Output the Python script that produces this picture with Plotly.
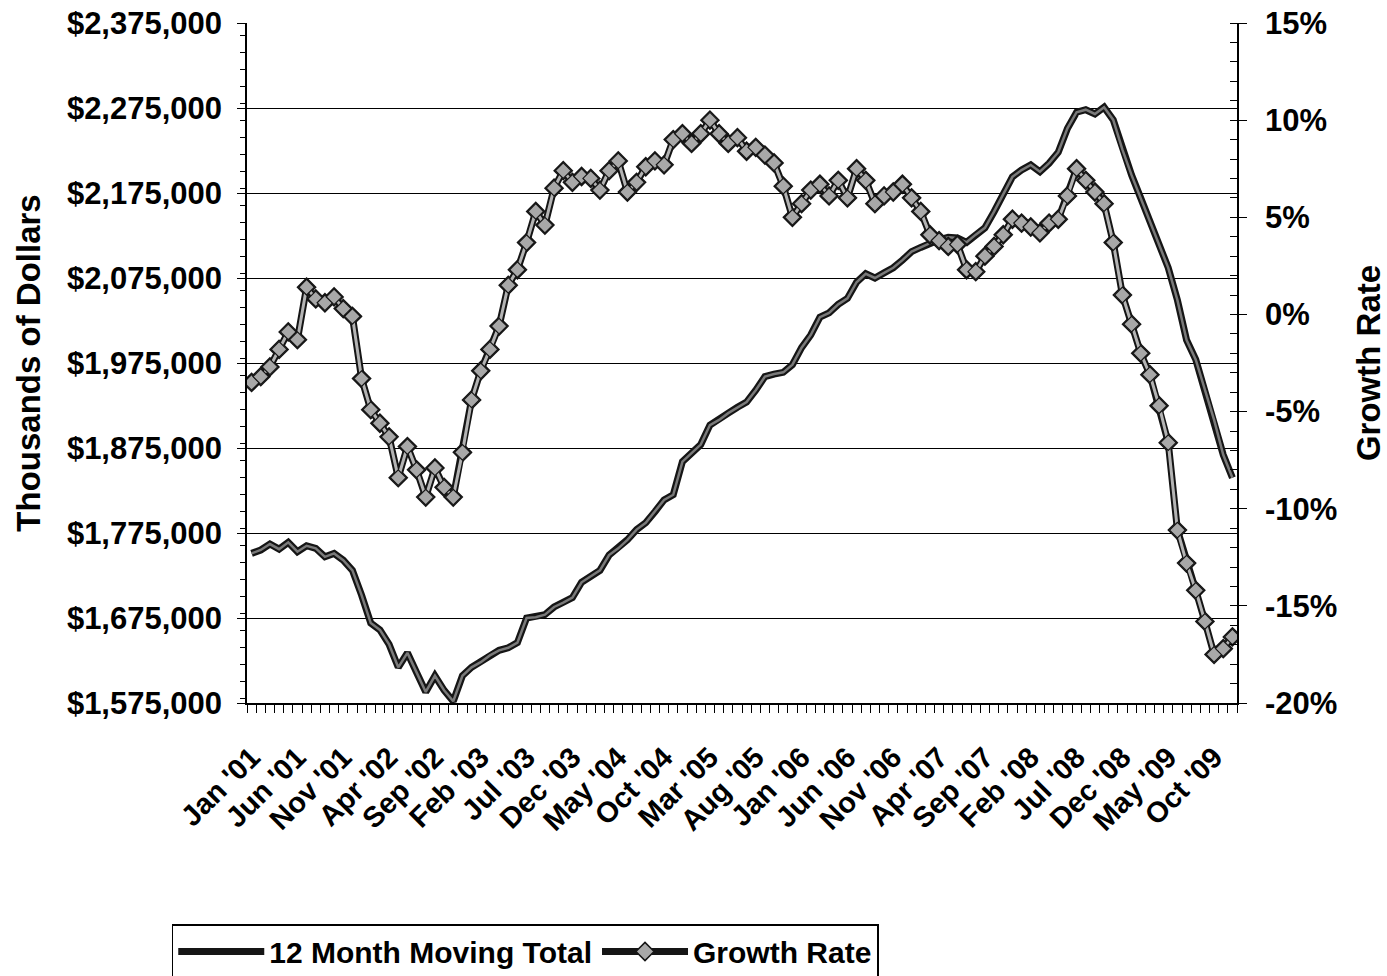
import plotly.graph_objects as go

# ---------------- data ----------------
month_names = ["Jan", "Feb", "Mar", "Apr", "May", "Jun",
               "Jul", "Aug", "Sep", "Oct", "Nov", "Dec"]
years = ["01", "02", "03", "04", "05", "06", "07", "08", "09"]
months = [f"{m} '{y}" for y in years for m in month_names]  # Jan '01 .. Dec '09

# 12 month moving total (thousands of dollars)
moving_total = [
    1751000, 1755000, 1762000, 1756000, 1764000, 1753000, 1760000, 1757000, 1747000, 1751000, 1743000, 1731000,  # 2001
    1702000, 1669000, 1661000, 1644000, 1617000, 1634000, 1611000, 1588000, 1607000, 1590000, 1577000, 1607000,  # 2002
    1617000, 1623000, 1631000, 1637000, 1640000, 1646000, 1675000, 1676000, 1679000, 1688000, 1693000, 1699000,  # 2003
    1717000, 1724000, 1731000, 1749000, 1757000, 1767000, 1779000, 1787000, 1800000, 1814000, 1820000, 1859000,  # 2004
    1869000, 1879000, 1902000, 1908000, 1916000, 1923000, 1929000, 1943000, 1959000, 1962000, 1964000, 1973000,  # 2005
    1993000, 2008000, 2029000, 2034000, 2044000, 2051000, 2070000, 2080000, 2075000, 2081000, 2087000, 2096000,  # 2006
    2106000, 2111000, 2116000, 2120000, 2123000, 2122000, 2117000, 2126000, 2134000, 2153000, 2173000, 2194000,  # 2007
    2202000, 2208000, 2200000, 2210000, 2223000, 2251000, 2270000, 2273000, 2268000, 2276000, 2261000, 2226000,  # 2008
    2196000, 2169000, 2141000, 2114000, 2087000, 2049000, 2002000, 1979000, 1943000, 1908000, 1867000, 1840000,  # 2009
]

# growth rate (%)
growth_rate = [
    -3.5, -3.2, -2.7, -1.8, -0.9, -1.3, 1.4, 0.8, 0.6, 0.9, 0.3, -0.1,      # 2001
    -3.3, -4.9, -5.6, -6.3, -8.4, -6.8, -8.0, -9.4, -7.9, -8.9, -9.4, -7.1,  # 2002
    -4.4, -2.9, -1.8, -0.6, 1.5, 2.3, 3.7, 5.3, 4.6, 6.5, 7.4, 6.8,          # 2003
    7.1, 7.0, 6.4, 7.4, 7.9, 6.3, 6.8, 7.6, 7.9, 7.7, 9.0, 9.3,              # 2004
    8.8, 9.3, 10.0, 9.3, 8.8, 9.1, 8.4, 8.6, 8.2, 7.8, 6.6, 5.0,             # 2005
    5.7, 6.4, 6.7, 6.1, 6.9, 6.0, 7.5, 6.9, 5.7, 6.1, 6.3, 6.7,              # 2006
    6.0, 5.3, 4.1, 3.8, 3.5, 3.6, 2.3, 2.2, 3.0, 3.5, 4.1, 4.9,              # 2007
    4.7, 4.5, 4.2, 4.7, 4.9, 6.1, 7.5, 6.9, 6.3, 5.7, 3.7, 1.0,              # 2008
    -0.5, -2.0, -3.1, -4.7, -6.6, -11.1, -12.8, -14.2, -15.8, -17.5, -17.2, -16.6,  # 2009
]

left_ticks = [1575000, 1675000, 1775000, 1875000, 1975000, 2075000, 2175000, 2275000, 2375000]
right_ticks = [-20, -15, -10, -5, 0, 5, 10, 15]
right_tick_text = ["-20%", "-15%", "-10%", "-5%", "0%", "5%", "10%", "15%"]
x_tick_step = 5

# ---------------- figure ----------------
idx = list(range(len(months)))
xtickvals = idx[::x_tick_step]
xticktext = months[::x_tick_step]

FONT = "Arial, Liberation Sans, sans-serif"
DARK = "#151515"

fig = go.Figure()

# 12 month moving total: dark outline with a grey core
fig.add_trace(go.Scatter(
    x=idx, y=moving_total, customdata=months, mode="lines",
    name="12 Month Moving Total",
    line=dict(color=DARK, width=7),
    hovertemplate="%{customdata}<br>$%{y:,.0f}<extra></extra>",
))
fig.add_trace(go.Scatter(
    x=idx, y=moving_total, mode="lines", showlegend=False, hoverinfo="skip",
    line=dict(color="#7a7a7a", width=2.5),
))

# Growth rate: lighter grey line with diamonds
fig.add_trace(go.Scatter(
    x=idx, y=growth_rate, customdata=months, yaxis="y2", mode="lines+markers",
    name="Growth Rate",
    line=dict(color=DARK, width=7),
    marker=dict(symbol="diamond", size=14, color="#a8a8a8",
                line=dict(color=DARK, width=1.5)),
    hovertemplate="%{customdata}<br>%{y:.1f}%<extra></extra>",
))
fig.add_trace(go.Scatter(
    x=idx, y=growth_rate, yaxis="y2", mode="lines", showlegend=False,
    hoverinfo="skip", line=dict(color="#b4b4b4", width=3),
))
fig.add_trace(go.Scatter(
    x=idx, y=growth_rate, yaxis="y2", mode="markers", showlegend=False,
    hoverinfo="skip",
    marker=dict(symbol="diamond", size=12, color="#a8a8a8",
                line=dict(color=DARK, width=1.2)),
))

xtickfont = dict(family=FONT, size=29, color="black", weight="bold")
ytickfont = dict(family=FONT, size=31, color="black", weight="bold")
titlefont = dict(family=FONT, size=33, color="black", weight="bold")

eps_left = 1.0
eps_right = 0.0001

fig.update_layout(
    width=1387, height=976,
    margin=dict(l=247, r=150, t=23, b=273, autoexpand=False),
    paper_bgcolor="white", plot_bgcolor="white",
    font=dict(family=FONT, color="black"),
    showlegend=True,
    legend=dict(
        orientation="h", x=-0.076, xanchor="left", y=-0.325, yanchor="top",
        font=dict(family=FONT, size=30, color="black", weight="bold"),
        bordercolor="black", borderwidth=1.5, bgcolor="white",
        itemwidth=86, tracegroupgap=0,
    ),
    xaxis=dict(
        range=[-0.5, len(months) - 0.5], automargin=False,
        tickmode="array", tickvals=xtickvals, ticktext=xticktext,
        tickangle=-45, tickfont=xtickfont, ticks="",
        ticklabelstandoff=24, ticklabeloverflow="allow",
        showgrid=False, zeroline=False,
        showline=True, linecolor="black", linewidth=1.5,
        minor=dict(ticks="outside", ticklen=8, tickcolor="black",
                   tickwidth=1, tick0=-0.5, dtick=1, showgrid=False),
    ),
    yaxis=dict(
        range=[left_ticks[0] - eps_left, left_ticks[-1] + eps_left],
        automargin=False,
        tickmode="array", tickvals=left_ticks, tickformat="$,.0f",
        tickfont=ytickfont, ticks="outside", ticklen=8, tickcolor="black",
        ticklabelstandoff=9, ticklabeloverflow="allow",
        showgrid=True, gridcolor="black", gridwidth=1,
        zeroline=False, showline=True, linecolor="black", linewidth=1.5,
        minor=dict(ticks="outside", ticklen=5, tickcolor="black",
                   dtick=20000, showgrid=False),
        title=dict(text="Thousands of Dollars", standoff=16, font=titlefont),
    ),
    yaxis2=dict(
        range=[right_ticks[0] - eps_right, right_ticks[-1] + eps_right],
        overlaying="y", side="right", automargin=False,
        tickmode="array", tickvals=right_ticks, ticktext=right_tick_text,
        tickfont=ytickfont, ticks="outside", ticklen=8, tickcolor="black",
        ticklabelstandoff=12, ticklabeloverflow="allow",
        showgrid=False, zeroline=False,
        showline=True, linecolor="black", linewidth=1.5,
        minor=dict(ticks="inside", ticklen=7, tickcolor="black",
                   dtick=1, showgrid=False),
        title=dict(text="Growth Rate", standoff=32, font=titlefont),
    ),
)

# remove the default 8px page margin so the figure sits at the window's corner
fig.write_html(
    "out.html",
    config={"displayModeBar": False},
    post_script="document.body.style.margin='0';document.body.style.overflow='hidden';",
)
